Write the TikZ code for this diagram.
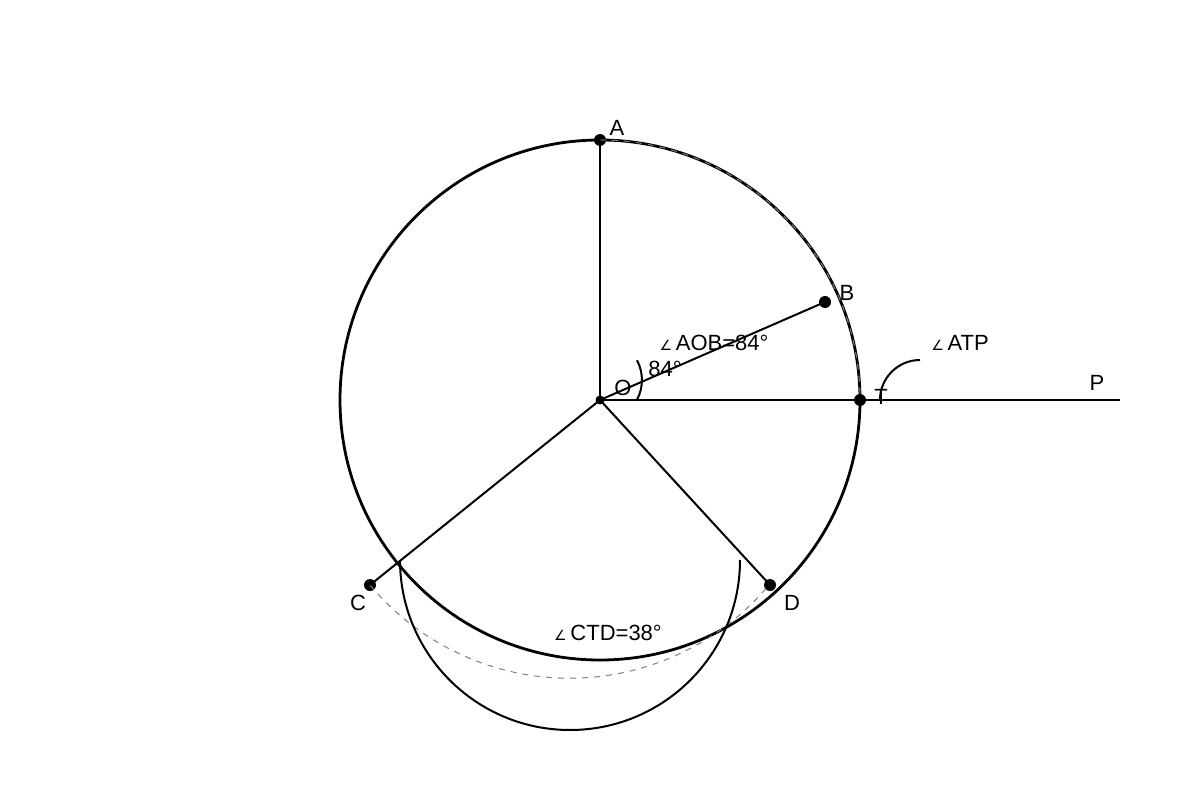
\documentclass[tikz,border=0pt]{standalone}
\usepackage{fontspec}
\setmainfont{Liberation Sans}
\newfontfamily\symfont{DejaVu Sans}
\newcommand{\angsym}{{\symfont\fontsize{7}{8}\selectfont ∠}\,}

\begin{document}
\begin{tikzpicture}[x=0.5pt,y=0.5pt,font=\fontsize{11}{13}\selectfont,
	dot/.style={circle,fill,inner sep=0pt,minimum size=6pt},
	smalldot/.style={circle,fill,inner sep=0pt,minimum size=4.5pt},
	seg/.style={line width=1pt}]
	\useasboundingbox (0,0) rectangle (1200,800);
	\path (600,400) node[smalldot] (O) {}
	(600,660) node[dot] (A) {}
	(825,498) node[dot] (B) {}
	(860,400) node[dot] (T) {}
	(370,215) node[dot] (C) {}
	(770,215) node[dot] (D) {}
	(1120,400) coordinate (P);
	\draw[line width=1.4pt] (O) circle[radius=260];
	\draw[gray,dashed,line width=0.5pt] (A.center) arc[start angle=90,end angle=0,radius=260];
	\draw[gray,dashed,line width=0.5pt] (C.center) arc[start angle=219.9,end angle=320.1,radius=260];
	\draw[seg] (O.center) -- (A.center);
	\draw[seg] (O.center) -- (B.center);
	\draw[seg] (O.center) -- (P);
	\draw[seg] (O.center) -- (C.center);
	\draw[seg] (O.center) -- (D.center);
%	angle marks
	\draw[seg] (637,400.3) arc[start angle=-28,end angle=28,radius=42];
	\draw[seg] (880,400) arc[start angle=180,end angle=90,radius=40];
	\draw[seg] (400,240) arc[start angle=180,end angle=360,radius=170];
%	labels
	\node (lA) at (617,672) {A};
	\node (lB) at (847,507) {B};
	\node (lO) at (623,412) {O};
	\node (lT) at (881,403) {T};
	\node (lP) at (1097,417) {P};
	\node (lC) at (358,197) {C};
	\node (lD) at (792,197) {D};
	\node (aob) at (714,457) {\angsym AOB=84°};
	\node (deg) at (665,431) {84°};
	\node (atp) at (960,457) {\angsym ATP};
	\node (ctd) at (608,167) {\angsym CTD=38°};
\end{tikzpicture}
\end{document}
